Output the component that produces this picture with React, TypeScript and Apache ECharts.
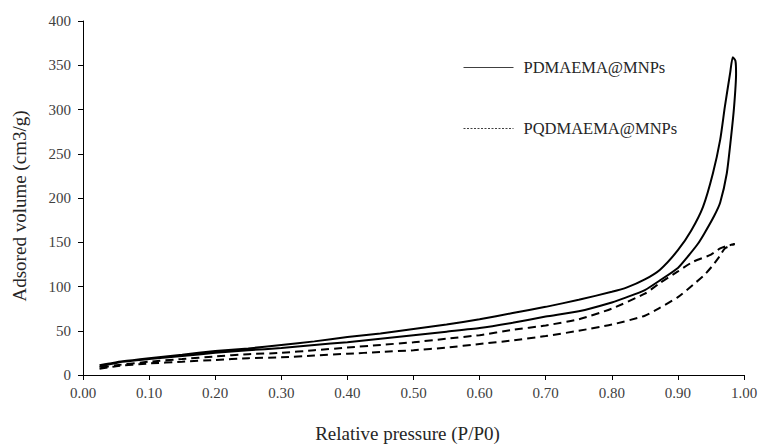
import React, { useEffect, useRef } from "react";
import * as echarts from "echarts";

const xTicks = ["0.00", "0.10", "0.20", "0.30", "0.40", "0.50", "0.60", "0.70", "0.80", "0.90", "1.00"];

// PDMAEMA@MNPs: adsorption branch (increasing P/P0)
const pdmAdsX = [0.025, 0.04, 0.06, 0.10, 0.15, 0.20, 0.25, 0.30, 0.35, 0.40, 0.45, 0.50, 0.55, 0.60, 0.65, 0.70, 0.75, 0.80, 0.823, 0.85, 0.873, 0.90, 0.914, 0.93, 0.94, 0.955, 0.964, 0.974, 0.980, 0.985, 0.988, 0.987];
const pdmAdsY = [9, 12, 15, 18, 21.5, 25, 28, 30.5, 34, 37, 41, 45, 49, 53, 59, 66, 72, 82, 88, 96, 107, 121, 133, 148, 160, 180, 195, 228, 266, 303, 341, 355];
// PDMAEMA@MNPs: desorption branch (decreasing P/P0)
const pdmDesX = [0.983, 0.979, 0.971, 0.964, 0.953, 0.938, 0.92, 0.90, 0.873, 0.85, 0.823, 0.80, 0.75, 0.70, 0.65, 0.60, 0.55, 0.50, 0.45, 0.40, 0.35, 0.30, 0.25, 0.20, 0.15, 0.10, 0.06, 0.04, 0.025];
const pdmDesY = [359, 341, 303, 266, 228, 190, 163, 141, 119, 108, 99, 94, 85, 77, 70, 63, 57, 52, 47, 43, 38, 34, 30, 27, 23, 19, 15.5, 13, 11];

// PQDMAEMA@MNPs: adsorption branch
const pqdAdsX = [0.025, 0.05, 0.10, 0.15, 0.20, 0.25, 0.30, 0.35, 0.40, 0.45, 0.50, 0.55, 0.60, 0.65, 0.70, 0.75, 0.80, 0.85, 0.873, 0.90, 0.923, 0.94, 0.953, 0.963, 0.971, 0.986];
const pqdAdsY = [7, 10, 13, 15, 17, 19, 20, 22, 24, 26, 28, 31, 35, 39, 44, 50, 57, 67, 76, 88, 102, 113, 124, 134, 143, 148];
// PQDMAEMA@MNPs: desorption branch
const pqdDesX = [0.975, 0.964, 0.95, 0.923, 0.90, 0.873, 0.85, 0.80, 0.75, 0.70, 0.65, 0.60, 0.55, 0.50, 0.45, 0.40, 0.35, 0.30, 0.25, 0.20, 0.15, 0.10, 0.05, 0.025];
const pqdDesY = [146, 143, 136, 128, 117, 104, 92, 75, 63, 56, 51, 45, 41, 37, 34, 31, 28, 25, 23.5, 21, 18, 15, 11, 8];

const zip = (xs: number[], ys: number[]) => xs.map((x, i) => [x, ys[i]]);

export default function App() {
  const ref = useRef<HTMLDivElement>(null);
  useEffect(() => {
    if (!ref.current) return;
    const chart = echarts.init(ref.current, null, { renderer: "svg" });
    const font = "Liberation Serif";
    chart.setOption({
      animation: false,
      backgroundColor: "#ffffff",
      textStyle: { fontFamily: font },
      grid: { left: 83, right: 17, top: 21, bottom: 70, containLabel: false, outerBoundsMode: "none" },
      legend: {
        orient: "vertical",
        left: 463,
        top: 59,
        padding: 0,
        itemWidth: 50,
        itemHeight: 14,
        itemGap: 44,
        itemStyle: { opacity: 0, borderWidth: 0 },
        textStyle: { fontFamily: font, fontSize: 16.5, color: "#262626", padding: [0, 0, 0, 5] },
        data: [
          { name: "PDMAEMA@MNPs", lineStyle: { width: 1, type: "solid", color: "#404040" } },
          { name: "PQDMAEMA@MNPs", lineStyle: { width: 1, type: [2, 1.5], color: "#404040" } },
        ],
      },
      xAxis: {
        type: "value",
        min: 0,
        max: 1,
        interval: 0.1,
        name: "Relative pressure (P/P0)",
        nameLocation: "middle",
        nameGap: 49,
        nameTextStyle: { fontFamily: font, fontSize: 19, color: "#262626", padding: [0, 12, 0, 0] },
        axisLine: { show: true, lineStyle: { color: "#000", width: 1 } },
        axisTick: { show: true, inside: false, length: 5, lineStyle: { color: "#000" } },
        axisLabel: {
          fontFamily: font,
          fontSize: 15,
          color: "#404040",
          margin: 10,
          formatter: (v: number) => xTicks[Math.round(v * 10)] ?? v.toFixed(2),
        },
        splitLine: { show: false },
      },
      yAxis: {
        type: "value",
        min: 0,
        max: 400,
        interval: 50,
        name: "Adsored volume (cm3/g)",
        nameLocation: "middle",
        nameGap: 54,
        nameRotate: 90,
        nameTextStyle: { fontFamily: font, fontSize: 19, color: "#262626", padding: [0, 16, 0, 0] },
        axisLine: { show: true, lineStyle: { color: "#000", width: 1 } },
        axisTick: { show: true, inside: false, length: 5, lineStyle: { color: "#000" } },
        axisLabel: { fontFamily: font, fontSize: 15, color: "#404040", margin: 12 },
        splitLine: { show: false },
      },
      series: [
        {
          name: "PDMAEMA@MNPs",
          type: "line",
          symbol: "none",
          smooth: 0.2,
          lineStyle: { color: "#000", width: 2, type: "solid" },
          itemStyle: { color: "#000" },
          data: [...zip(pdmAdsX, pdmAdsY), ...zip(pdmDesX, pdmDesY)],
        },
        {
          name: "PQDMAEMA@MNPs",
          type: "line",
          symbol: "none",
          smooth: 0.2,
          lineStyle: { color: "#000", width: 2, type: [8, 5] },
          itemStyle: { color: "#000" },
          data: [...zip(pqdAdsX, pqdAdsY), ...zip(pqdDesX, pqdDesY)],
        },
      ],
    });
    return () => chart.dispose();
  }, []);
  return (
    <div
      ref={ref}
      style={{ position: "fixed", left: 0, top: 0, width: 761, height: 445, background: "#fff" }}
    />
  );
}
